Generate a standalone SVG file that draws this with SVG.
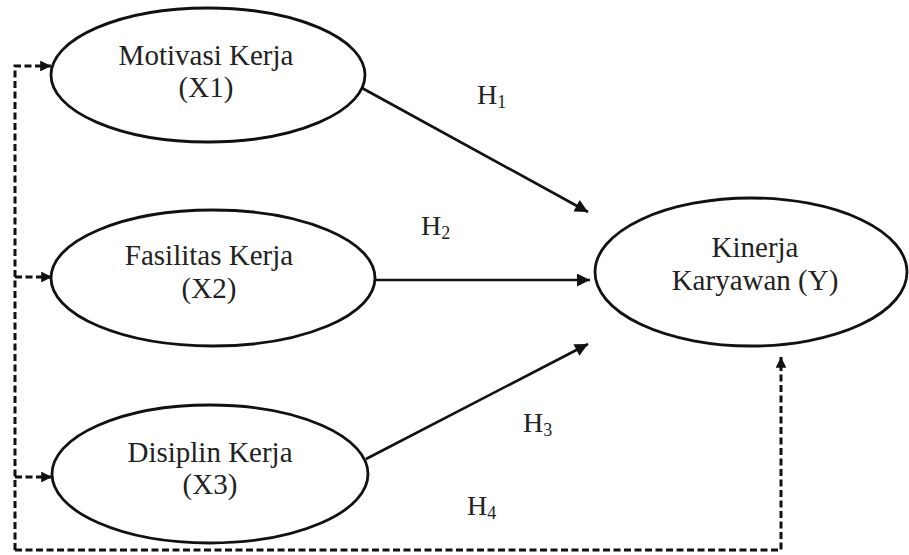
<svg xmlns="http://www.w3.org/2000/svg" width="909" height="555" viewBox="0 0 909 555">
<defs>
<style>
.node{fill:#fff;stroke:#111;stroke-width:2.8}
.t{font-family:"Liberation Serif","Times New Roman",serif;font-size:29px;fill:#222;text-anchor:middle}
.h{font-family:"Liberation Serif","Times New Roman",serif;font-size:28px;fill:#222}
.sub{font-size:18px}
.solid{stroke:#111;stroke-width:2.6;fill:none}
.dash{stroke:#111;stroke-width:3;fill:none;stroke-dasharray:7 3.5}
</style>
<marker id="ah" viewBox="0 0 10 10" refX="10" refY="5" markerWidth="5.5" markerHeight="5" markerUnits="strokeWidth" orient="auto">
<path d="M0,0 L10,5 L0,10 Z" fill="#111"/>
</marker>
<marker id="ahd" viewBox="0 0 10 10" refX="10" refY="5" markerWidth="3.6" markerHeight="3.6" markerUnits="strokeWidth" orient="auto">
<path d="M0,0 L10,5 L0,10 Z" fill="#111"/>
</marker>
</defs>
<rect width="909" height="555" fill="#fff"/>
<g id="connectors">
<path class="solid" d="M362,88 L588,212" marker-end="url(#ah)"/>
<path class="solid" d="M375,280 L590,280" marker-end="url(#ah)"/>
<path class="solid" d="M366,459 L588,344" marker-end="url(#ah)"/>
<path class="dash" d="M15,550 L15,66 L51,66" marker-end="url(#ahd)"/>
<path class="dash" d="M15,277 L52,277" marker-end="url(#ahd)"/>
<path class="dash" d="M15,477 L52,477" marker-end="url(#ahd)"/>
<path class="dash" d="M15,550 L781,550 L781,357" marker-end="url(#ahd)"/>
</g>
<g id="x1">
<ellipse class="node" cx="208" cy="75" rx="157" ry="67"/>
<text class="t" x="206" y="65">Motivasi Kerja</text>
<text class="t" x="206" y="97">(X1)</text>
</g>
<g id="x2">
<ellipse class="node" cx="213" cy="278" rx="162" ry="68"/>
<text class="t" x="209" y="265">Fasilitas Kerja</text>
<text class="t" x="209" y="298">(X2)</text>
</g>
<g id="x3">
<ellipse class="node" cx="210" cy="474" rx="158" ry="69"/>
<text class="t" x="210" y="462">Disiplin Kerja</text>
<text class="t" x="210" y="494">(X3)</text>
</g>
<g id="y">
<ellipse class="node" cx="751" cy="272" rx="156" ry="74"/>
<text class="t" x="755" y="257">Kinerja</text>
<text class="t" x="755" y="290">Karyawan (Y)</text>
</g>
<g id="labels">
<text class="h" x="477" y="104">H<tspan class="sub" dy="4">1</tspan></text>
<text class="h" x="421" y="235">H<tspan class="sub" dy="4">2</tspan></text>
<text class="h" x="523" y="432">H<tspan class="sub" dy="4">3</tspan></text>
<text class="h" x="467" y="515">H<tspan class="sub" dy="4">4</tspan></text>
</g>
</svg>
